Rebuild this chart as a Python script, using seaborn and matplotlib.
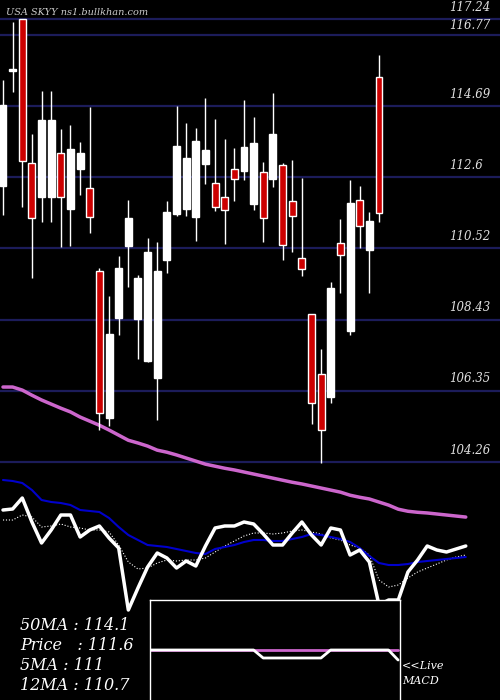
import numpy as np
import pandas as pd
import matplotlib
matplotlib.use("Agg")
import matplotlib.pyplot as plt
import seaborn as sns

opens  = [112.35,115.72,117.24,113.02,112.02,112.02,113.31,111.67,112.85,112.29,109.86,105.55,108.48,110.59,108.45,107.22,106.72,110.18,111.53,111.67,111.44,112.99,112.43,112.02,112.85,112.79,111.82,112.76,112.55,112.96,111.91,110.24,108.60,106.84,106.16,110.68,108.10,111.94,110.47,115.54]
highs  = [115.45,117.15,117.24,113.87,115.13,115.13,114.02,114.13,113.64,114.66,109.94,109.12,110.30,111.94,109.74,110.82,110.71,111.91,114.69,114.19,114.05,114.93,114.31,113.72,113.46,114.87,114.37,113.05,115.07,113.02,113.11,112.58,108.60,107.57,109.53,111.38,112.52,112.35,111.58,116.19]
lows   = [111.50,115.10,111.73,109.65,111.29,111.29,110.56,110.59,112.08,110.97,105.20,105.31,107.98,109.39,107.28,107.19,105.49,109.80,111.47,111.47,110.74,112.40,111.61,110.65,111.91,112.52,111.64,110.71,112.32,110.18,110.41,109.71,105.37,104.23,105.99,109.21,107.98,110.53,109.21,111.29]
closes = [114.72,115.75,113.08,111.41,114.28,114.28,112.02,113.43,113.31,111.44,105.70,108.01,109.94,111.41,109.65,110.41,109.86,111.58,113.52,113.17,113.67,113.40,111.73,111.64,112.55,113.49,113.61,111.41,113.87,110.62,111.47,109.91,105.99,105.20,109.36,110.33,111.85,111.18,111.32,111.56]

ma50 = [106.46,106.46,106.37,106.22,106.08,105.96,105.84,105.73,105.58,105.46,105.34,105.20,105.05,104.90,104.82,104.73,104.61,104.55,104.47,104.38,104.29,104.20,104.14,104.08,104.03,103.97,103.91,103.85,103.79,103.73,103.67,103.62,103.56,103.50,103.44,103.38,103.29,103.23,103.18,103.09,103.00,102.88,102.82,102.79,102.77,102.74,102.71,102.68,102.65]

# lower indicator panel (arbitrary units)
ind_white = [190,191,202,178,157,170,185,185,163,170,174,162,152,90,112,133,147,142,132,139,134,154,172,174,174,178,176,166,155,155,167,178,165,155,172,170,145,150,138,95,100,100,128,140,154,150,148,151,154]
ind_blue  = [220,219,217,210,200,198,197,195,190,189,188,182,173,165,160,155,154,153,151,149,147,146,151,153,155,158,160,160,159,159,161,163,166,165,163,161,158,152,144,137,135,135,136,138,139,140,141,142,143]
ind_dot   = [180,180,185,183,173,174,176,173,172,170,170,168,155,138,131,132,137,140,139,140,140,142,148,154,159,164,167,167,166,167,169,170,168,166,162,160,155,152,145,120,113,115,122,128,132,136,140,143,145]

macd_x = list(range(15, 42))
macd   = [0]*12 + [-0.16]*7 + [0]*7 + [-0.2]
signal = [0]*27

grid_levels = [117.24,116.77,114.69,112.6,110.52,108.43,106.35,104.26]
grid_labels = ["117.24","116.77","114.69","112.6","110.52","108.43","106.35","104.26"]
info = ["50MA : 114.1","Price   : 111.6","5MA : 111","12MA : 110.7"]

sns.set_style("dark")
plt.rcParams['font.family'] = ['DejaVu Serif', 'DejaVu Sans']

fig = plt.figure(figsize=(5, 7), dpi=100, facecolor="black")
ax = fig.add_axes([0, 0, 1, 1])
ax.set_facecolor("black")
x0, x1 = -0.31, 51.55
ax.set_xlim(x0, x1)
ax.set_ylim(97.29, 117.80)
for s in ax.spines.values():
    s.set_visible(False)
ax.set_xticks([]); ax.set_yticks([])

for lv, lb in zip(grid_levels, grid_labels):
    ax.axhline(lv, color="#1c1c5a", lw=1.6, zorder=1)
    off = 0.16 if lb != "116.77" else 0.1
    ax.text(46.3, lv + off, lb, color="#e0e0e0", fontsize=8.5, style="italic", va="bottom", zorder=5)

df = pd.DataFrame({"i": np.arange(len(opens)), "o": opens, "h": highs, "l": lows, "c": closes})
for r in df.itertuples():
    up = r.c >= r.o
    ax.vlines(r.i, r.l, r.h, color="white", lw=1, zorder=3)
    bot = min(r.o, r.c); hgt = max(abs(r.c - r.o), 0.06)
    ax.bar(r.i, hgt, bottom=bot, width=0.72, color="white" if up else "#cc0000",
           edgecolor="white", linewidth=1, zorder=4)

mdf = pd.DataFrame({"x": np.arange(len(ma50)), "y": ma50})
sns.lineplot(data=mdf, x="x", y="y", ax=ax, color="#cc66cc", lw=2.5, zorder=2)
ax.set_xlabel(""); ax.set_ylabel("")
ax.text(0.3, 117.35, "USA SKYY ns1.bullkhan.com", color="#cccccc", fontsize=7, style="italic")

ax2 = fig.add_axes([0, 0, 1, 1])
ax2.patch.set_alpha(0)
ax2.set_xlim(x0, x1); ax2.set_ylim(0, 700)
ax2.axis("off")
xi = np.arange(len(ind_white))
sns.lineplot(x=xi, y=ind_dot, ax=ax2, color="white", lw=0.8, linestyle=":")
sns.lineplot(x=xi, y=ind_blue, ax=ax2, color="#0000cc", lw=1.5)
sns.lineplot(x=xi, y=ind_white, ax=ax2, color="white", lw=2.5)
for k, t in enumerate(info):
    ax2.text(20/500*(x1-x0)+x0, 75 - k*20, t, color="white", fontsize=11.5, style="italic", va="center")

ax3 = fig.add_axes([150/500, 0, 250/500, 100/700])
ax3.set_facecolor("black")
ax3.set_xlim(15.25, 41.2); ax3.set_ylim(-1, 1)
ax3.set_xticks([]); ax3.set_yticks([])
for s in ax3.spines.values():
    s.set_color("white"); s.set_linewidth(1)
ax3.spines["bottom"].set_visible(False)
sns.lineplot(x=macd_x, y=signal, ax=ax3, color="#cc66cc", lw=2)
sns.lineplot(x=macd_x, y=macd, ax=ax3, color="white", lw=2)
ax3.set_xlabel(""); ax3.set_ylabel("")
fig.text(402/500, 1-666/700, "<<Live", color="white", fontsize=8, style="italic", va="center")
fig.text(402/500, 1-681/700, "MACD", color="white", fontsize=8, style="italic", va="center")

fig.savefig("out.png", dpi=100, facecolor="black")
